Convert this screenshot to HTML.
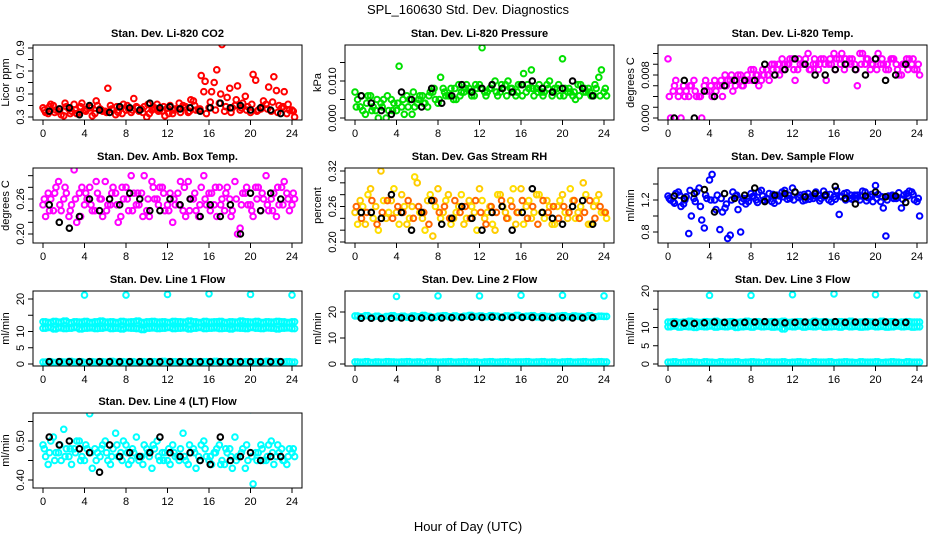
<!DOCTYPE html>
<html><head><meta charset="utf-8"><style>
body{margin:0;background:#fff;}
svg{display:block;font-family:"Liberation Sans",sans-serif;}
</style></head><body>
<svg id="chart" width="936" height="540" viewBox="0 0 936 540">
<text x="468" y="14" text-anchor="middle" font-size="13">SPL_160630  Std. Dev. Diagnostics</text>
<text x="468" y="531" text-anchor="middle" font-size="13">Hour of Day (UTC)</text>
</svg>
<script>
// ---- data ----
const xTicks=[0,4,8,12,16,20,24];
const co2A=[0.38,0.33,0.40,0.35,0.31,0.37,0.41,0.34,0.36,0.39,0.33,0.37,0.35,0.40,0.32,0.38,0.36,0.34,0.39,0.37,0.30,0.36,0.41,0.35,0.38,0.33,0.37,0.40,0.34,0.44,0.36,0.52,0.38,0.60,0.42,0.35,0.55,0.40,0.36,0.48,0.34,0.62,0.37,0.41,0.35,0.53,0.38,0.33,0.36];
const co2B=[0.34,0.41,0.36,0.32,0.39,0.35,0.33,0.42,0.37,0.31,0.40,0.35,0.55,0.36,0.34,0.41,0.37,0.46,0.35,0.39,0.33,0.38,0.36,0.31,0.40,0.37,0.34,0.39,0.45,0.36,0.66,0.33,0.52,0.71,0.93,0.47,0.38,0.57,0.42,0.39,0.67,0.36,0.44,0.56,0.65,0.40,0.52,0.36,0.30];
const co2C=[0.36,0.39,0.34,0.37,0.42,0.33,0.36,0.39,0.35,0.38,0.44,0.36,0.34,0.37,0.39,0.33,0.40,0.36,0.38,0.34,0.41,0.37,0.35,0.39,0.33,0.36,0.42,0.38,0.35,0.40,0.37,0.61,0.43,0.36,0.50,0.39,0.34,0.45,0.38,0.36,0.41,0.35,0.39,0.37,0.43,0.34,0.39,0.41,0.35];
const co2K=[0.35,0.37,0.38,0.32,0.40,0.36,0.34,0.39,0.38,0.36,0.42,0.38,0.39,0.37,0.38,0.35,0.38,0.42,0.38,0.40,0.36,0.38,0.36,0.33];
const presA=[0.007,0.003,0.001,0.006,0.002,0.004,0.000,0.005,0.002,0.003,0.006,0.001,0.004,0.006,0.003,0.007,0.004,0.008,0.006,0.005,0.009,0.007,0.008,0.006,0.009,0.007,0.008,0.010,0.007,0.009,0.008,0.006,0.009,0.007,0.013,0.008,0.007,0.009,0.006,0.008,0.016,0.007,0.006,0.009,0.007,0.008,0.006,0.011,0.007];
const presB=[0.005,0.002,0.006,0.003,0.000,0.005,0.002,0.004,0.014,0.001,0.005,0.003,0.006,0.004,0.007,0.005,0.011,0.006,0.008,0.005,0.007,0.009,0.006,0.008,0.019,0.007,0.009,0.006,0.008,0.010,0.007,0.009,0.012,0.008,0.006,0.009,0.007,0.010,0.008,0.006,0.008,0.007,0.005,0.009,0.007,0.006,0.008,0.013,0.006];
const presC=[0.003,0.006,0.004,0.002,0.005,0.003,0.006,0.002,0.004,0.005,0.003,0.007,0.005,0.004,0.006,0.008,0.005,0.007,0.006,0.008,0.006,0.008,0.007,0.009,0.008,0.006,0.008,0.007,0.009,0.006,0.008,0.007,0.006,0.009,0.008,0.007,0.006,0.008,0.007,0.009,0.006,0.008,0.007,0.006,0.008,0.007,0.009,0.006,0.008];
const presK=[0.006,0.004,0.002,0.001,0.007,0.005,0.003,0.008,0.004,0.006,0.009,0.007,0.008,0.009,0.008,0.007,0.009,0.010,0.008,0.007,0.008,0.010,0.008,0.006];
const tempA=[0.011,0.005,0.004,0.006,0.004,0.007,0.004,0.006,0.005,0.007,0.006,0.008,0.007,0.006,0.008,0.007,0.009,0.008,0.007,0.009,0.010,0.009,0.011,0.010,0.011,0.009,0.010,0.012,0.010,0.009,0.011,0.010,0.012,0.011,0.009,0.011,0.010,0.012,0.010,0.009,0.011,0.010,0.009,0.011,0.010,0.008,0.011,0.010,0.009];
const tempB=[0.000,0.007,0.000,0.005,0.006,0.004,0.000,0.005,0.004,0.006,0.004,0.007,0.005,0.008,0.006,0.007,0.009,0.006,0.008,0.007,0.010,0.008,0.010,0.011,0.007,0.010,0.011,0.009,0.010,0.011,0.007,0.010,0.011,0.012,0.010,0.011,0.006,0.012,0.011,0.010,0.012,0.010,0.009,0.011,0.008,0.010,0.011,0.009,0.008];
const tempC=[0.004,0.006,0.005,0.004,0.006,0.005,0.004,0.007,0.006,0.005,0.007,0.006,0.008,0.007,0.006,0.008,0.007,0.008,0.009,0.008,0.009,0.010,0.009,0.010,0.009,0.011,0.010,0.009,0.011,0.010,0.010,0.011,0.009,0.010,0.011,0.010,0.009,0.010,0.011,0.010,0.009,0.011,0.010,0.011,0.009,0.010,0.009,0.011,0.010];
const tempK=[0.000,0.007,0.000,0.005,0.004,0.006,0.007,0.007,0.007,0.010,0.008,0.009,0.011,0.010,0.008,0.008,0.009,0.010,0.009,0.008,0.011,0.007,0.008,0.010];
const ambA=[0.25,0.27,0.24,0.29,0.26,0.23,0.31,0.27,0.25,0.28,0.24,0.26,0.29,0.25,0.27,0.23,0.28,0.30,0.25,0.27,0.24,0.29,0.26,0.28,0.25,0.22,0.27,0.24,0.29,0.26,0.23,0.30,0.27,0.25,0.28,0.24,0.26,0.29,0.21,0.27,0.25,0.28,0.24,0.30,0.26,0.23,0.28,0.27,0.25];
const ambB=[0.23,0.26,0.28,0.24,0.27,0.25,0.22,0.28,0.26,0.24,0.27,0.23,0.25,0.28,0.22,0.26,0.24,0.27,0.25,0.30,0.23,0.26,0.28,0.24,0.27,0.25,0.29,0.23,0.26,0.24,0.28,0.25,0.27,0.23,0.26,0.28,0.24,0.20,0.27,0.25,0.23,0.28,0.26,0.24,0.27,0.25,0.29,0.24,0.26];
const ambC=[0.26,0.24,0.27,0.25,0.28,0.24,0.26,0.23,0.27,0.25,0.29,0.26,0.24,0.27,0.25,0.28,0.26,0.24,0.27,0.23,0.26,0.28,0.25,0.27,0.24,0.26,0.25,0.28,0.24,0.27,0.25,0.26,0.24,0.28,0.25,0.27,0.23,0.26,0.25,0.28,0.24,0.26,0.27,0.25,0.24,0.28,0.25,0.26,0.27];
const ambK=[0.25,0.22,0.21,0.23,0.26,0.24,0.26,0.25,0.27,0.26,0.24,0.24,0.26,0.25,0.26,0.23,0.25,0.23,0.25,0.20,0.27,0.24,0.27,0.26];
const rhA=[0.25,0.27,0.23,0.29,0.26,0.32,0.24,0.27,0.25,0.28,0.23,0.26,0.30,0.24,0.27,0.21,0.29,0.25,0.28,0.24,0.26,0.23,0.27,0.25,0.29,0.24,0.26,0.22,0.28,0.25,0.27,0.23,0.29,0.26,0.24,0.28,0.25,0.27,0.23,0.26,0.28,0.24,0.27,0.25,0.30,0.23,0.26,0.28,0.25];
const rhB=[0.23,0.26,0.28,0.24,0.22,0.27,0.25,0.29,0.23,0.26,0.24,0.31,0.25,0.22,0.28,0.26,0.24,0.27,0.23,0.25,0.28,0.24,0.26,0.22,0.27,0.25,0.23,0.28,0.26,0.24,0.29,0.25,0.23,0.27,0.25,0.28,0.24,0.26,0.23,0.27,0.25,0.29,0.24,0.26,0.28,0.23,0.27,0.25,0.24];
const rhC=[0.26,0.24,0.25,0.27,0.23,0.25,0.27,0.24,0.26,0.25,0.27,0.24,0.26,0.25,0.23,0.27,0.25,0.26,0.24,0.27,0.25,0.26,0.24,0.27,0.25,0.23,0.26,0.25,0.27,0.24,0.26,0.25,0.27,0.24,0.26,0.23,0.27,0.25,0.26,0.24,0.26,0.25,0.27,0.24,0.25,0.27,0.24,0.26,0.25];
const rhK=[0.25,0.25,0.24,0.28,0.25,0.22,0.25,0.27,0.23,0.24,0.26,0.24,0.22,0.25,0.26,0.22,0.25,0.29,0.25,0.24,0.23,0.26,0.27,0.23];
const flowA=[1.25,1.18,1.30,1.15,0.78,1.22,1.35,0.85,1.45,1.20,0.83,1.10,0.76,1.25,0.80,1.15,1.28,1.20,1.32,1.22,1.18,1.26,1.30,1.21,1.35,1.24,1.19,1.28,1.22,1.26,1.31,1.20,1.24,1.02,1.28,1.22,1.26,1.20,1.30,1.24,1.38,1.18,0.75,1.25,1.22,1.10,1.28,1.30,1.18];
const flowB=[1.20,1.28,1.12,1.24,1.00,1.30,0.95,1.22,1.52,1.26,1.05,0.72,1.30,1.08,1.22,1.18,1.25,1.30,1.20,1.28,1.16,1.25,1.32,1.22,1.30,1.26,1.20,1.24,1.30,1.22,1.27,1.18,1.32,1.24,1.29,1.21,1.26,1.31,1.23,1.18,1.27,1.10,1.25,1.22,1.29,1.26,1.31,1.20,1.00];
const flowC=[1.22,1.16,1.26,1.20,1.32,1.18,1.12,1.26,1.20,1.08,1.22,1.15,1.20,1.26,1.18,1.22,1.24,1.17,1.25,1.21,1.27,1.19,1.24,1.26,1.20,1.23,1.27,1.21,1.25,1.19,1.24,1.27,1.21,1.25,1.20,1.26,1.22,1.25,1.19,1.27,1.22,1.24,1.20,1.26,1.23,1.21,1.25,1.27,1.22];
const flowK=[1.25,1.22,1.28,1.33,1.05,1.28,1.22,1.26,1.35,1.18,1.26,1.28,1.30,1.24,1.28,1.26,1.37,1.22,1.15,1.25,1.30,1.24,1.25,1.17];
const l1A=[13.0,12.8,13.1,12.9,13.2,12.7,13.0,12.9,13.1,12.8,13.0,13.2,12.9,13.0,12.8,13.1,12.9,13.0,13.2,12.8,13.0,13.1,12.9,13.0,12.8,13.1,13.0,12.9,13.2,13.0,12.8,13.1,12.9,13.0,13.1,12.8,13.0,12.9,13.2,13.0,12.9,13.1,12.8,13.0,12.9,13.1,13.0,12.8,13.0];
const l1B=[11.0,11.2,10.8,11.1,10.9,11.0,11.2,10.8,11.0,11.1,10.9,11.0,11.2,10.9,11.0,10.8,11.1,11.0,10.9,10.6,11.0,11.1,10.9,11.0,11.2,10.9,11.0,11.1,10.8,11.0,11.2,10.9,11.0,11.1,10.9,11.0,10.8,11.1,11.0,10.9,11.2,11.0,10.9,11.1,11.0,10.8,11.0,11.1,10.9];
const l1C=[0.6,0.7,0.5,0.7,0.6,0.8,0.6,0.7,0.5,0.7,0.6,0.7,0.6,0.8,0.6,0.7,0.6,0.7,0.5,0.7,0.6,0.7,0.6,0.8,0.6,0.7,0.6,0.7,0.5,0.7,0.6,0.7,0.6,0.8,0.6,0.7,0.6,0.7,0.5,0.7,0.6,0.7,0.6,0.8,0.6,0.7,0.6,0.7,0.6];
const l1K=[0.7,0.7,0.7,0.7,0.7,0.7,0.7,0.7,0.7,0.7,0.7,0.7,0.7,0.7,0.7,0.7,0.7,0.7,0.7,0.7,0.7,0.7,0.7,0.7];
const l1Out=[21.2,21.2,21.4,21.6,21.4,21.2];
const l2A=[18.5,18.2,18.6,18.0,18.4,17.9,18.3,18.6,18.1,18.4,18.0,18.5,18.2,18.7,18.3,18.0,18.4,18.6,18.2,18.5,18.1,18.4,18.7,18.3,18.5,18.2,18.6,18.4,18.0,18.5,18.3,18.7,18.2,18.4,18.6,18.1,18.5,18.3,18.0,18.4,18.6,18.2,18.5,18.3,18.1,18.6,18.2,18.4,18.3];
const l2B=[0.8,0.7,0.9,0.6,0.8,0.7,0.9,0.8,0.7,0.8,0.9,0.7,0.8,0.6,0.9,0.8,0.7,0.8,0.9,0.7,0.8,0.9,0.7,0.8,0.6,0.8,0.9,0.7,0.8,0.9,0.7,0.8,0.8,0.9,0.7,0.8,0.9,0.7,0.8,0.6,0.8,0.9,0.7,0.8,0.9,0.7,0.8,0.9,0.8];
const l2K=[17.6,17.6,17.5,17.6,17.7,17.6,17.7,17.8,17.7,17.8,17.9,18.0,17.9,18.0,17.9,17.9,17.9,17.9,17.8,17.8,17.8,17.7,17.7,17.8];
const l2Out=[26.0,26.2,26.2,26.4,26.4,26.2];
const l3A=[11.5,11.6,11.4,11.5,11.7,11.5,11.4,11.6,11.5,11.7,11.4,11.5,11.6,11.4,11.5,11.7,11.5,11.6,11.4,11.5,11.6,11.5,11.7,11.4,11.5,11.6,11.5,11.4,11.7,11.5,11.6,11.4,11.5,11.6,11.5,11.7,11.4,11.5,11.6,11.5,11.4,11.7,11.5,11.6,11.4,11.5,11.6,11.5,11.5];
const l3B=[10.2,10.4,10.1,10.3,10.2,10.0,10.3,10.2,10.4,10.1,10.3,10.2,10.4,10.0,10.2,10.3,10.1,10.4,10.2,10.3,10.1,10.2,9.6,10.3,10.2,10.4,10.1,10.3,10.2,10.4,10.1,10.2,10.3,10.1,10.4,10.2,10.3,10.1,10.2,10.4,10.2,10.3,10.1,10.2,10.4,10.2,10.3,10.1,10.2];
const l3C=[0.5,0.6,0.4,0.5,0.6,0.5,0.4,0.6,0.5,0.4,0.6,0.5,0.5,0.6,0.4,0.5,0.6,0.5,0.4,0.6,0.5,0.5,0.6,0.4,0.5,0.6,0.5,0.4,0.6,0.5,0.5,0.6,0.4,0.5,0.6,0.5,0.4,0.6,0.5,0.5,0.6,0.4,0.5,0.6,0.5,0.4,0.6,0.5,0.5];
const l3K=[11.1,11.2,11.1,11.3,11.5,11.4,11.3,11.4,11.5,11.6,11.4,11.3,11.4,11.5,11.4,11.5,11.6,11.4,11.5,11.5,11.4,11.5,11.4,11.4];
const l3Out=[18.8,18.8,19.0,19.2,19.0,18.9];
const l4A=[0.49,0.44,0.51,0.47,0.53,0.46,0.48,0.50,0.45,0.57,0.48,0.46,0.50,0.44,0.52,0.47,0.49,0.45,0.51,0.46,0.48,0.43,0.50,0.47,0.45,0.49,0.46,0.52,0.44,0.48,0.46,0.50,0.45,0.47,0.49,0.44,0.48,0.51,0.46,0.43,0.58,0.47,0.49,0.45,0.50,0.46,0.48,0.44,0.47];
const l4B=[0.46,0.50,0.47,0.45,0.48,0.44,0.50,0.46,0.48,0.43,0.47,0.49,0.45,0.48,0.46,0.50,0.44,0.47,0.45,0.49,0.46,0.48,0.45,0.47,0.44,0.46,0.48,0.45,0.47,0.43,0.49,0.46,0.44,0.48,0.45,0.47,0.43,0.46,0.48,0.45,0.39,0.47,0.45,0.49,0.44,0.47,0.45,0.48,0.46];
const l4C=[0.48,0.47,0.45,0.49,0.46,0.48,0.47,0.45,0.49,0.47,0.45,0.48,0.47,0.46,0.49,0.45,0.47,0.48,0.46,0.44,0.47,0.49,0.46,0.45,0.48,0.47,0.45,0.46,0.49,0.47,0.45,0.48,0.46,0.47,0.44,0.48,0.46,0.45,0.47,0.49,0.46,0.45,0.48,0.46,0.47,0.49,0.45,0.46,0.48];
const l4K=[0.51,0.49,0.50,0.48,0.47,0.42,0.49,0.46,0.47,0.46,0.47,0.51,0.47,0.46,0.47,0.45,0.44,0.51,0.45,0.46,0.47,0.45,0.46,0.46];
const outHours=[4,8,12,16,20,24];

// ---- layout (styles, not data) ----
const NS="http://www.w3.org/2000/svg";
const svg=document.getElementById('chart');
const colX=[43,355,668], rowTop=[45,168,291,413], BOXH=75;
const panels=[
 {name:'co2',title:'Stan. Dev. Li-820 CO2',ylab:'Licor ppm',c:0,r:0,v0:0.3,p0:117,v1:0.9,p1:48,ticks:[0.3,0.4,0.5,0.6,0.7,0.8,0.9],labels:[0.3,0.5,0.7,0.9],dec:1,
  series:[[co2A,'#ff0000',0],[co2B,'#ff0000',0.25],[co2C,'#ff0000',0.125]],black:co2K},
 {name:'pressure',title:'Stan. Dev. Li-820 Pressure',ylab:'kPa',c:1,r:0,v0:0,p0:118,v1:0.01,p1:81,ticks:[0,0.005,0.01,0.015],labels:[0,0.01],dec:3,
  series:[[presA,'#00e000',0],[presB,'#00e000',0.25],[presC,'#00e000',0.125]],black:presK},
 {name:'temp',title:'Stan. Dev. Li-820 Temp.',ylab:'degrees C',c:2,r:0,v0:0,p0:118,v1:0.008,p1:75,ticks:[0,0.002,0.004,0.006,0.008,0.01,0.012],labels:[0,0.008],dec:3,
  series:[[tempA,'#ff00ff',0],[tempB,'#ff00ff',0.25],[tempC,'#ff00ff',0.125]],black:tempK},
 {name:'amb-box',title:'Stan. Dev. Amb. Box Temp.',ylab:'degrees C',c:0,r:1,v0:0.2,p0:234,v1:0.26,p1:199,ticks:[0.2,0.22,0.24,0.26,0.28,0.3],labels:[0.2,0.26],dec:2,
  series:[[ambA,'#ff00ff',0],[ambB,'#ff00ff',0.25],[ambC,'#ff00ff',0.125]],black:ambK},
 {name:'rh',title:'Stan. Dev. Gas Stream RH',ylab:'percent',c:1,r:1,v0:0.2,p0:242,v1:0.32,p1:171,ticks:[0.2,0.22,0.24,0.26,0.28,0.3,0.32],labels:[0.2,0.26,0.32],dec:2,
  series:[[rhA,'#ffcc00',0],[rhB,'#ffdd00',0.25],[rhC,'#ff6600',0.125]],black:rhK},
 {name:'sample-flow',title:'Stan. Dev. Sample Flow',ylab:'ml/min',c:2,r:1,v0:0.8,p0:232,v1:1.2,p1:200,ticks:[0.8,1.0,1.2,1.4],labels:[0.8,1.2],dec:1,
  series:[[flowA,'#0000ff',0],[flowB,'#0000ff',0.25],[flowC,'#0000ff',0.125]],black:flowK},
 {name:'line1',title:'Stan. Dev. Line 1 Flow',ylab:'ml/min',c:0,r:2,v0:0,p0:364,v1:20,p1:299,ticks:[0,5,10,15,20],labels:[0,5,10,20],dec:0,
  series:[[l1A,'#00ffff',0],[l1A,'#00ffff',0.25],[l1B,'#00ffff',0],[l1B,'#00ffff',0.25],[l1C,'#00ffff',0],[l1C,'#00ffff',0.25]],black:l1K,out:l1Out},
 {name:'line2',title:'Stan. Dev. Line 2 Flow',ylab:'ml/min',c:1,r:2,v0:0,p0:364,v1:20,p1:312,ticks:[0,10,20],labels:[0,10,20],dec:0,
  series:[[l2A,'#00ffff',0],[l2A,'#00ffff',0.25],[l2B,'#00ffff',0],[l2B,'#00ffff',0.25]],black:l2K,out:l2Out},
 {name:'line3',title:'Stan. Dev. Line 3 Flow',ylab:'ml/min',c:2,r:2,v0:0,p0:364,v1:20,p1:291,ticks:[0,5,10,15,20],labels:[0,5,10,20],dec:0,
  series:[[l3A,'#00ffff',0],[l3A,'#00ffff',0.25],[l3B,'#00ffff',0],[l3B,'#00ffff',0.25],[l3C,'#00ffff',0],[l3C,'#00ffff',0.25]],black:l3K,out:l3Out},
 {name:'line4',title:'Stan. Dev. Line 4 (LT) Flow',ylab:'ml/min',c:0,r:3,v0:0.4,p0:480,v1:0.5,p1:441,ticks:[0.4,0.45,0.5,0.55],labels:[0.4,0.5],dec:2,
  series:[[l4A,'#00ffff',0],[l4B,'#00ffff',0.25],[l4C,'#00ffff',0.125]],black:l4K}
];
function mk(tag,attrs,parent){const e=document.createElementNS(NS,tag);for(const k in attrs)e.setAttribute(k,attrs[k]);(parent||svg).appendChild(e);return e;}
panels.forEach(p=>{
 const x0=colX[p.c], top=rowTop[p.r], bot=top+BOXH, left=x0-10, right=x0+259;
 const xs=h=>x0+h*249/24;
 const ys=v=>p.p0+(v-p.v0)*(p.p1-p.p0)/(p.v1-p.v0);
 const g=mk('g',{});
 
 
 const clip=mk('clipPath',{id:'clip-'+p.name},g);
 mk('rect',{x:left,y:top,width:right-left,height:BOXH},clip);
 const pts=mk('g',{'clip-path':'url(#clip-'+p.name+')',fill:'none','stroke-width':2},g);
 
 
 p.series.forEach(([arr,col,off])=>{
  arr.forEach((v,i)=>{
   const c=mk('circle',{cx:xs(i*0.5+off),cy:ys(v),r:2.8,stroke:col},pts);
   
   
  });
 });
 if(p.out){p.out.forEach((v,i)=>{
   const c=mk('circle',{cx:xs(outHours[i]),cy:ys(v),r:2.8,stroke:'#00ffff'},pts);
   
   
 });}
 p.black.forEach((v,i)=>{
   const c=mk('circle',{cx:xs(0.6+i*0.97),cy:ys(v),r:2.8,stroke:'#000'},pts);
   
   
 });
 mk('rect',{x:left,y:top,width:right-left,height:BOXH,fill:'none',stroke:'#000','stroke-width':1},g);
 const t=mk('text',{x:(left+right)/2,y:top-8,'text-anchor':'middle','font-size':11,'font-weight':'bold'},g);
 t.textContent=p.title;
 
 
 xTicks.forEach(h=>{
  mk('line',{x1:xs(h),x2:xs(h),y1:bot,y2:bot+5,stroke:'#000'},g);
  const l=mk('text',{x:xs(h),y:bot+17,'text-anchor':'middle','font-size':11},g);
  l.textContent=h;
  
  
 });
 p.ticks.forEach(v=>{mk('line',{x1:left-5,x2:left,y1:ys(v),y2:ys(v),stroke:'#000'},g);});
 p.labels.forEach(v=>{
  const y=ys(v), x=left-9;
  const l=mk('text',{x:x,y:y,'text-anchor':'middle','font-size':11,transform:`rotate(-90 ${x} ${y})`},g);
  l.textContent=v.toFixed(p.dec);
  
  
 });
 const yx=left-24, yy=(top+bot)/2;
 const yl=mk('text',{x:yx,y:yy,'text-anchor':'middle','font-size':11,transform:`rotate(-90 ${yx} ${yy})`},g);
 yl.textContent=p.ylab;
 
 
});
</script>
</body></html>
